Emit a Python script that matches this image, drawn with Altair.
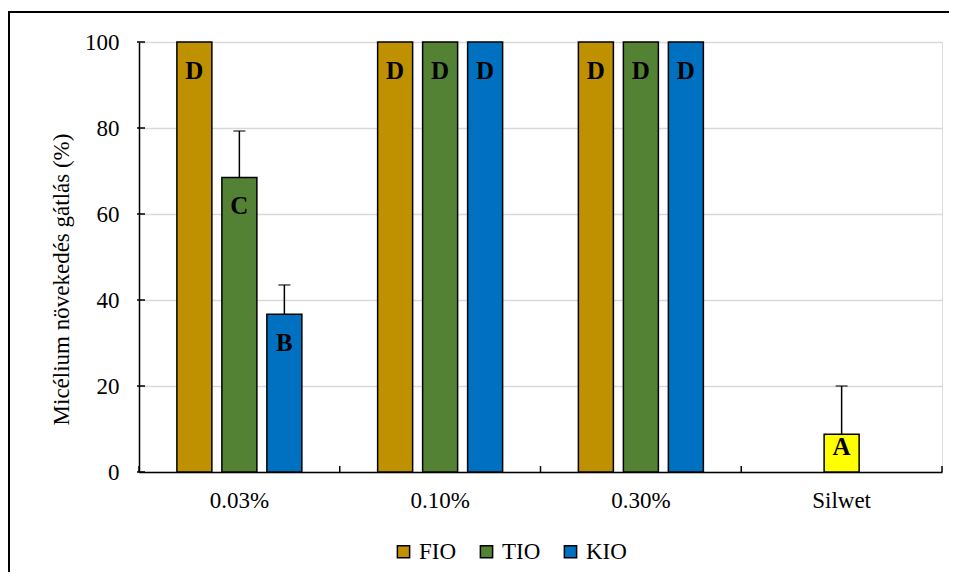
import altair as alt
import pandas as pd

categories = ["0.03%", "0.10%", "0.30%", "Silwet"]
series = ["FIO", "TIO", "KIO"]
fio_values = [100, 100, 100]
tio_values = [68.5, 100, 100]
kio_values = [36.7, 100, 100]
fio_err = [0, 0, 0]
tio_err = [10.8, 0, 0]
kio_err = [6.8, 0, 0]
fio_letters = ["D", "D", "D"]
tio_letters = ["C", "D", "D"]
kio_letters = ["B", "D", "D"]
silwet_value = 8.8
silwet_err = 11.2
silwet_letter = "A"
y_ticks = [0, 20, 40, 60, 80, 100]

rows = []
for s, vals, errs, lets in [("FIO", fio_values, fio_err, fio_letters),
                            ("TIO", tio_values, tio_err, tio_letters),
                            ("KIO", kio_values, kio_err, kio_letters)]:
    for c, v, e, l in zip(categories[:3], vals, errs, lets):
        rows.append(dict(cat=c, series=s, slot=s, value=v, err=e, top=v + e, letter=l, small=False))
rows.append(dict(cat="Silwet", series="Silwet", slot="TIO", value=silwet_value, err=silwet_err,
                 top=silwet_value + silwet_err, letter=silwet_letter, small=True))
df = pd.DataFrame(rows)

W, H = 803, 430
FONT = "Liberation Serif"

xscale = alt.Scale(domain=categories, paddingInner=0, paddingOuter=0)
xo_scale = alt.Scale(domain=series, paddingInner=0.222, paddingOuter=0.842)
yscale = alt.Scale(domain=[0, 100])

X = alt.X("cat:N", scale=xscale, sort=categories,
          axis=alt.Axis(title=None, ticks=False, labelAngle=0, labelFont=FONT, labelFontSize=23,
                        labelColor="black", labelPadding=17, domainColor="black", domainWidth=1.5,
                        grid=False))
XO = alt.XOffset("slot:N", scale=xo_scale, sort=series)
Y = alt.Y("value:Q", scale=yscale,
          axis=alt.Axis(title="Micélium növekedés gátlás (%)", values=y_ticks, ticks=False,
                        labelFont=FONT, labelFontSize=23, labelColor="black", labelPadding=20,
                        titleFont=FONT, titleFontSize=23, titleFontWeight="normal", titleColor="black",
                        titleX=-71, titleY=237, titleAngle=270, titleAlign="center",
                        titleBaseline="alphabetic",
                        domainColor="black", domainWidth=1.5,
                        grid=True, gridColor="#d9d9d9", gridWidth=1.5))

color = alt.Color("series:N",
                  scale=alt.Scale(domain=series + ["Silwet"],
                                  range=["#BF9000", "#548235", "#0070C0", "#FFFF00"]),
                  legend=alt.Legend(title=None, values=series, orient="none", direction="horizontal",
                                    legendX=253, legendY=498, symbolType="square", symbolSize=150,
                                    symbolStrokeColor="black", symbolStrokeWidth=1.5,
                                    labelFont=FONT, labelFontSize=23, labelColor="black",
                                    labelOffset=4, columnPadding=18, padding=0))

base = alt.Chart(df)

bars = base.mark_bar(stroke="black", strokeWidth=1.5).encode(x=X, xOffset=XO, y=Y, color=color)

err_df = df[df["err"] > 0]
err_rule = alt.Chart(err_df).mark_rule(color="black", strokeWidth=1.5).encode(
    x=alt.X("cat:N", scale=xscale, sort=categories), xOffset=XO,
    y=alt.Y("value:Q", scale=yscale), y2="top:Q")
err_cap = alt.Chart(err_df).mark_tick(color="black", thickness=1.5, size=12).encode(
    x=alt.X("cat:N", scale=xscale, sort=categories), xOffset=XO,
    y=alt.Y("top:Q", scale=yscale))

txt_main = alt.Chart(df[~df["small"]]).mark_text(
    font=FONT, fontSize=25, fontWeight="bold", color="black", dy=37, baseline="alphabetic").encode(
    x=alt.X("cat:N", scale=xscale, sort=categories), xOffset=XO,
    y=alt.Y("value:Q", scale=yscale), text="letter:N")
txt_small = alt.Chart(df[df["small"]]).mark_text(
    font=FONT, fontSize=25, fontWeight="bold", color="black", dy=21, baseline="alphabetic").encode(
    x=alt.X("cat:N", scale=xscale, sort=categories), xOffset=XO,
    y=alt.Y("value:Q", scale=yscale), text="letter:N")

cat_df = pd.DataFrame({"cat": categories})
xticks = alt.Chart(cat_df).mark_rule(color="black", strokeWidth=1.5).encode(
    x=alt.X("cat:N", scale=xscale, sort=categories, bandPosition=0),
    y=alt.value(H - 6), y2=alt.value(H))
xtick_end = alt.Chart(cat_df.head(1)).mark_rule(color="black", strokeWidth=1.5).encode(
    x=alt.value(W), y=alt.value(H - 6), y2=alt.value(H))

ytick_df = pd.DataFrame({"value": y_ticks})
yticks = alt.Chart(ytick_df).mark_rule(color="black", strokeWidth=1.5).encode(
    y=alt.Y("value:Q", scale=yscale), x=alt.value(-2), x2=alt.value(6))

border = alt.Chart(cat_df.head(1)).mark_rect(fill=None, stroke="black", strokeWidth=2).encode(
    x=alt.value(-130), y=alt.value(-30), x2=alt.value(1000), y2=alt.value(700))

chart = alt.layer(bars, err_rule, err_cap, txt_main, txt_small, xticks, xtick_end, yticks, border).properties(
    width=W, height=H,
    autosize=alt.AutoSizeParams(type="none"),
    padding={"left": 131, "top": 34, "right": 7, "bottom": 100},
).configure_view(stroke=None).configure(background="white")

chart.save("out.html", embed_options={"renderer": "svg", "actions": False})
